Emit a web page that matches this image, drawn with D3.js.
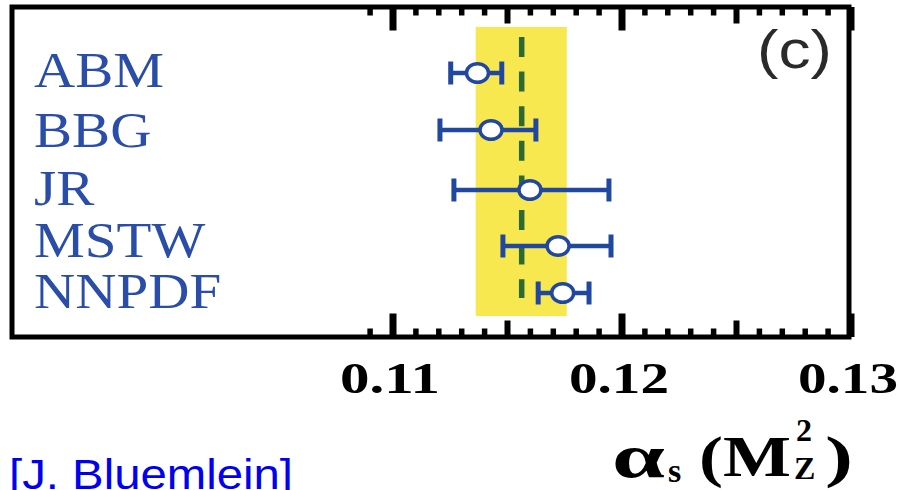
<!DOCTYPE html>
<html>
<head>
<meta charset="utf-8">
<script src="https://cdn.jsdelivr.net/npm/d3@7"></script>
<style>
  body { margin: 0; background: #fff; }
  svg { display: block; }
  .row-label { font-family: "Liberation Serif", "Times New Roman", serif; fill: #2a4ea8; }
  .tick-label { font-family: "Liberation Serif", "Times New Roman", serif; font-weight: bold; fill: #000; }
  .axis-title { font-family: "Liberation Serif", "Times New Roman", serif; font-weight: bold; fill: #000; }
  .panel-tag { font-family: "Liberation Sans", Arial, sans-serif; fill: #2a2a2a; }
  .credit { font-family: "Liberation Sans", Arial, sans-serif; fill: #0000f0; }
</style>
</head>
<body>
<div id="wrapper"></div>
<script>
// fits of alpha_s(M_Z^2)
const fitNames = ["ABM", "BBG", "JR", "MSTW", "NNPDF"]
const fitValues = [0.11369, 0.11428, 0.11598, 0.11721, 0.11741]
const fitLow = [0.11252, 0.11205, 0.11266, 0.11480, 0.11634]
const fitHigh = [0.11475, 0.11624, 0.11943, 0.11952, 0.11856]

// reference band and its central value
const bandRange = [0.11361, 0.11759]
const bandCentre = 0.11562

const majorTicks = [0.11, 0.12, 0.13]
const majorTickLabels = ["0.11", "0.12", "0.13"]
const mediumTicks = [0.115, 0.125]
const minorTicks = [0.109, 0.111, 0.112, 0.113, 0.114, 0.116, 0.117, 0.118, 0.119,
  0.121, 0.122, 0.123, 0.124, 0.126, 0.127, 0.128, 0.129]

function drawChart() {
  const dimensions = {
    width: 901,
    height: 490,
    frame: { left: 12, top: 7, right: 849, bottom: 337 },
  }
  const frame = dimensions.frame

  const blue = "#2148a0"

  const svg = d3.select("#wrapper")
    .append("svg")
      .attr("width", dimensions.width)
      .attr("height", dimensions.height)

  const xScale = d3.scaleLinear()
    .domain([0.11, 0.13])
    .range([393, 851])

  // rows are not evenly spaced in the original
  const yScale = d3.scaleOrdinal()
    .domain(fitNames)
    .range([73, 130, 190, 246, 293])
  const labelScale = d3.scaleOrdinal()
    .domain(fitNames)
    .range([87, 147, 205, 257, 308])

  const rows = fitNames.map((name, i) => ({
    name,
    value: fitValues[i],
    low: fitLow[i],
    high: fitHigh[i],
  }))

  // yellow band
  svg.append("rect")
      .attr("x", xScale(bandRange[0]))
      .attr("y", 27)
      .attr("width", xScale(bandRange[1]) - xScale(bandRange[0]))
      .attr("height", 316 - 27)
      .attr("fill", "#f8e850")

  // dashed central value
  svg.append("line")
      .attr("x1", xScale(bandCentre))
      .attr("x2", xScale(bandCentre))
      .attr("y1", 37)
      .attr("y2", 298)
      .attr("stroke", "#2d6a32")
      .attr("stroke-width", 5.5)
      .attr("stroke-dasharray", "20 14.6")

  // error bars
  const bars = svg.selectAll(".fit")
    .data(rows)
    .enter().append("g")
      .attr("class", "fit")

  bars.append("line")
      .attr("x1", d => xScale(d.low))
      .attr("x2", d => xScale(d.high))
      .attr("y1", d => yScale(d.name))
      .attr("y2", d => yScale(d.name))
      .attr("stroke", blue)
      .attr("stroke-width", 4.5)

  bars.selectAll(".cap")
    .data(d => [d.low, d.high].map(v => ({ v, name: d.name })))
    .enter().append("line")
      .attr("class", "cap")
      .attr("x1", c => xScale(c.v))
      .attr("x2", c => xScale(c.v))
      .attr("y1", c => yScale(c.name) - 11.5)
      .attr("y2", c => yScale(c.name) + 11.5)
      .attr("stroke", blue)
      .attr("stroke-width", 5)

  bars.append("ellipse")
      .attr("cx", d => xScale(d.value))
      .attr("cy", d => yScale(d.name))
      .attr("rx", 11)
      .attr("ry", 9.3)
      .attr("fill", "#fff")
      .attr("stroke", blue)
      .attr("stroke-width", 3.5)

  // row labels, a little stretched sideways like the source
  svg.selectAll(".row-label")
    .data(rows)
    .enter().append("text")
      .attr("class", "row-label")
      .attr("transform", d => `translate(34,${labelScale(d.name)}) scale(1.12,1)`)
      .style("font-size", "51px")
      .text(d => d.name)

  // ticks, top and bottom, pointing inwards
  const tickSets = [
    { values: minorTicks, len: 6, w: 5.5 },
    { values: mediumTicks, len: 14, w: 6 },
    { values: majorTicks, len: 21, w: 7 },
  ]
  tickSets.forEach(set => {
    svg.selectAll(null)
      .data(set.values)
      .enter().append("line")
        .attr("x1", d => xScale(d))
        .attr("x2", d => xScale(d))
        .attr("y1", frame.top)
        .attr("y2", frame.top + 2.5 + set.len)
        .attr("stroke", "#000")
        .attr("stroke-width", set.w)
    svg.selectAll(null)
      .data(set.values)
      .enter().append("line")
        .attr("x1", d => xScale(d))
        .attr("x2", d => xScale(d))
        .attr("y1", frame.bottom)
        .attr("y2", frame.bottom - 2.5 - set.len)
        .attr("stroke", "#000")
        .attr("stroke-width", set.w)
  })

  // frame
  svg.append("rect")
      .attr("x", frame.left)
      .attr("y", frame.top)
      .attr("width", frame.right - frame.left)
      .attr("height", frame.bottom - frame.top)
      .attr("fill", "none")
      .attr("stroke", "#000")
      .attr("stroke-width", 5)

  // tick labels
  svg.selectAll(".tick-label")
    .data(majorTicks)
    .enter().append("text")
      .attr("class", "tick-label")
      .attr("x", d => xScale(d) - 3)
      .attr("y", 393)
      .attr("text-anchor", "middle")
      .attr("textLength", 100)
      .attr("lengthAdjust", "spacingAndGlyphs")
      .style("font-size", "45px")
      .text((d, i) => majorTickLabels[i])

  // panel tag
  svg.append("text")
      .attr("class", "panel-tag")
      .attr("x", 757)
      .attr("y", 68)
      .attr("textLength", 75)
      .attr("lengthAdjust", "spacingAndGlyphs")
      .style("font-size", "53px")
      .text("(c)")

  // axis title alpha_s(M_Z^2)
  const title = svg.append("g").attr("class", "axis-title")
  title.append("text").attr("x", 612).attr("y", 477)
      .attr("textLength", 53).attr("lengthAdjust", "spacingAndGlyphs")
      .style("font-size", "62px").text("α")
  title.append("text").attr("x", 668).attr("y", 482)
      .style("font-size", "34px").text("s")
  title.append("text").attr("x", 699).attr("y", 476)
      .attr("textLength", 92).attr("lengthAdjust", "spacingAndGlyphs")
      .style("font-size", "58px").text("(M")
  title.append("text").attr("x", 796).attr("y", 441)
      .style("font-size", "32px").text("2")
  title.append("text").attr("x", 794).attr("y", 479)
      .style("font-size", "32px").text("Z")
  title.append("text").attr("x", 825).attr("y", 476)
      .attr("textLength", 28).attr("lengthAdjust", "spacingAndGlyphs")
      .style("font-size", "58px").text(")")

  // credit
  svg.append("text")
      .attr("class", "credit")
      .attr("x", 9)
      .attr("y", 489)
      .attr("textLength", 284)
      .attr("lengthAdjust", "spacingAndGlyphs")
      .style("font-size", "42px")
      .text("[J. Bluemlein]")
}
drawChart()
</script>
</body>
</html>
